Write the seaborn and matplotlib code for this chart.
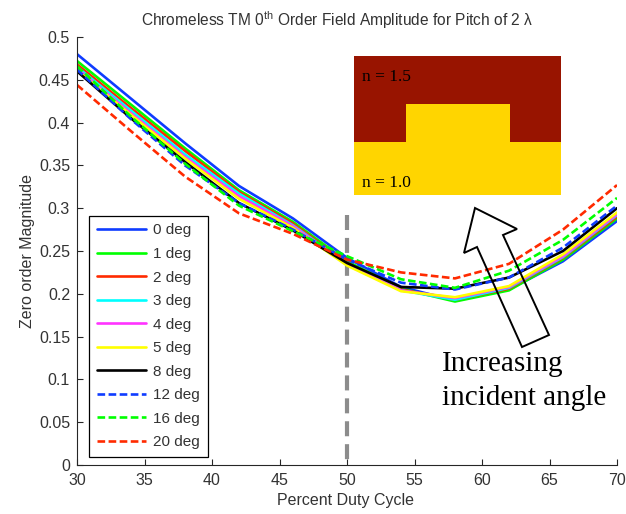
import pandas as pd
import matplotlib.pyplot as plt
from matplotlib.patches import Polygon, Rectangle
import seaborn as sns

duty = [30, 34, 38, 42, 46, 50, 54, 58, 62, 66, 70]
deg0 = [.480, .428, .376, .326, .288, .242, .208, .192, .205, .238, .285]
deg1 = [.472, .421, .370, .321, .284, .238, .206, .191, .204, .240, .288]
deg2 = [.468, .417, .367, .319, .282, .236, .205, .193, .206, .242, .290]
deg3 = [.465, .414, .363, .317, .280, .235, .204, .193, .207, .243, .292]
deg4 = [.463, .411, .360, .314, .279, .234, .204, .195, .208, .244, .293]
deg5 = [.461, .409, .358, .311, .277, .233, .203, .196, .209, .246, .295]
deg8 = [.460, .405, .354, .306, .274, .236, .208, .206, .219, .250, .300]
deg12 = [.462, .404, .350, .306, .275, .240, .213, .205, .219, .254, .303]
deg16 = [.466, .407, .352, .303, .273, .244, .217, .207, .227, .263, .312]
deg20 = [.444, .390, .337, .294, .270, .240, .225, .218, .235, .275, .327]

series = [deg0, deg1, deg2, deg3, deg4, deg5, deg8, deg12, deg16, deg20]
names = ["0 deg", "1 deg", "2 deg", "3 deg", "4 deg", "5 deg", "8 deg",
         "12 deg", "16 deg", "20 deg"]
colors = ["#0f3cff", "#00ff00", "#ff2a00", "#00ffff", "#ff33ff", "#ffff00",
          "#000000", "#0f3cff", "#00ff00", "#ff2a00"]

rows = []
for name, vals in zip(names, series):
    for d, v in zip(duty, vals):
        rows.append({"duty": d, "mag": v, "angle": name})
data = pd.DataFrame(rows)

W, H = 626, 514
sns.set_style("ticks")
plt.rcParams["font.family"] = ["Liberation Sans", "DejaVu Sans"]
plt.rcParams["mathtext.fontset"] = "custom"
plt.rcParams["mathtext.rm"] = "Liberation Sans"

fig = plt.figure(figsize=(W / 100, H / 100), dpi=100)
ax = fig.add_axes([77 / W, 1 - 465 / H, 540 / W, 428 / H])

dash_map = {n: ((2.9, 1.3) if n in names[7:] else "") for n in names}
sns.lineplot(data=data, x="duty", y="mag", hue="angle", style="angle",
             hue_order=names, style_order=names, palette=colors, dashes=dash_map,
             linewidth=1.9, ax=ax, legend="full", sort=False)

# grey marker at 50 percent
ax.plot([50, 50], [0.292, 0], color="#8c8c8c", lw=3, ls=(0, (3.6, 1.9)), zorder=1)

ax.set_xlim(30, 70)
ax.set_ylim(0, 0.5)
ax.set_xticks(range(30, 71, 5))
ax.set_yticks([0, .05, .1, .15, .2, .25, .3, .35, .4, .45, .5])
ax.set_yticklabels(["0", "0.05", "0.1", "0.15", "0.2", "0.25", "0.3", "0.35", "0.4", "0.45", "0.5"])
ax.tick_params(direction="in", length=4, width=0.8, labelsize=11.5, labelcolor="#333333")
ax.tick_params(axis="x", pad=6)
ax.tick_params(axis="y", pad=5)
sns.despine(ax=ax)
ax.set_xlabel("Percent Duty Cycle", fontsize=11.5, color="#333333", labelpad=3, x=0.498)
ax.set_ylabel("Zero order Magnitude", fontsize=11.5, color="#333333", labelpad=3, y=0.499)
ax.set_title(r"Chromeless TM 0$^{\mathrm{th}}$ Order Field Amplitude for Pitch of 2 λ",
             fontsize=11.2, color="#333333", pad=8, x=0.481)

handles, labels = ax.get_legend_handles_labels()
leg = ax.legend(handles, labels, loc="lower left", bbox_to_anchor=(12 / 540, 8 / 428),
                borderaxespad=0, fontsize=11, fancybox=False, framealpha=1,
                edgecolor="black", labelspacing=0.625, handlelength=3.2,
                handletextpad=0.5, borderpad=0.5, labelcolor="#333333")
leg.get_frame().set_linewidth(0.9)


# pixel coordinates of the pasted drawing, flipped into figure fractions
def px(points):
    return [(x / W, 1 - y / H) for x, y in points]


def box(x0, y0, x1, y1, color):
    fig.add_artist(Rectangle((x0 / W, 1 - y1 / H), (x1 - x0) / W, (y1 - y0) / H,
                             transform=fig.transFigure, color=color, lw=0))


box(354, 56, 561, 195, "#981400")
box(354, 142, 561, 195, "#ffd500")
box(406, 104, 510, 142, "#ffd500")
fig.text(362 / W, 1 - 81 / H, "n = 1.5", family="Liberation Serif", fontsize=12.5,
         va="baseline", color="black")
fig.text(362 / W, 1 - 187 / H, "n = 1.0", family="Liberation Serif", fontsize=12.5,
         va="baseline", color="black")

arrow = [(475, 208), (517, 229), (503, 235), (549, 335), (522, 347), (477, 247), (464, 253)]
fig.add_artist(Polygon(px(arrow), closed=True, transform=fig.transFigure,
                       facecolor="none", edgecolor="black", lw=1.4, zorder=5))
fig.text(442 / W, 1 - 371 / H, "Increasing", family="Liberation Serif", fontsize=21,
         va="baseline", color="black")
fig.text(442 / W, 1 - 405 / H, "incident angle", family="Liberation Serif", fontsize=21,
         va="baseline", color="black")

fig.savefig("out.png", dpi=100)
